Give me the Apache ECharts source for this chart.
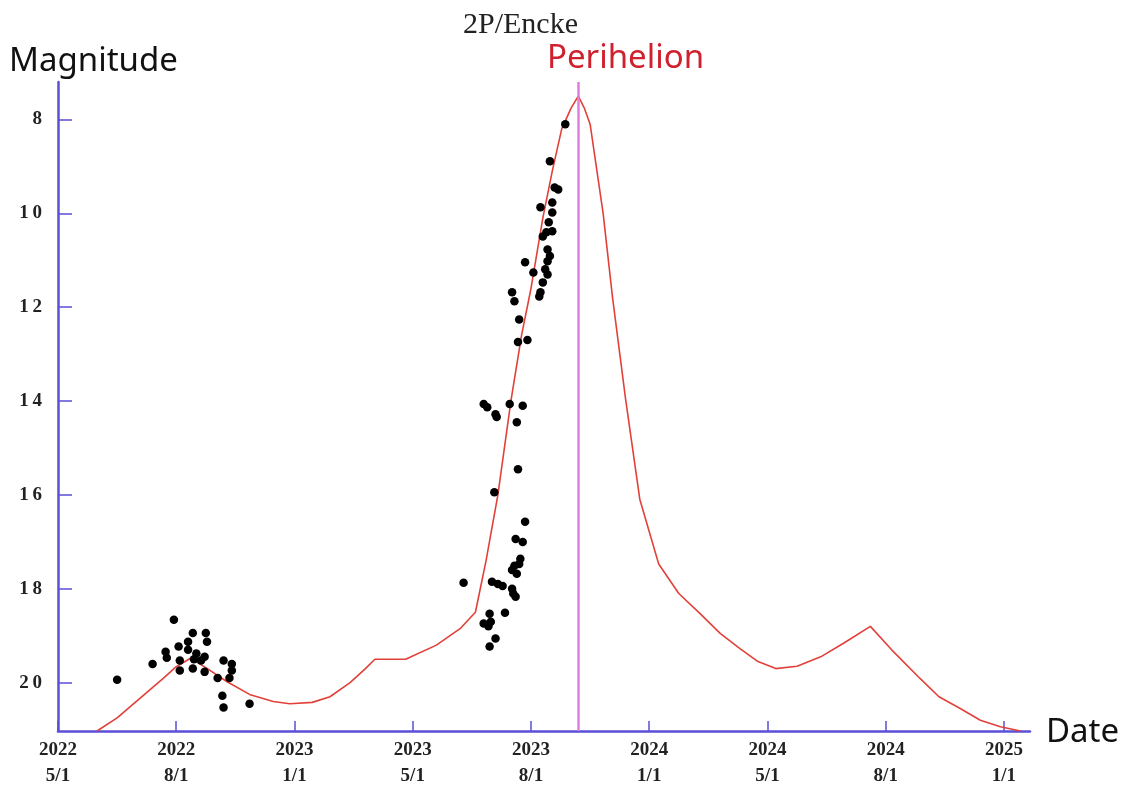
<!DOCTYPE html>
<html>
<head>
<meta charset="utf-8">
<title>2P/Encke</title>
<script src="https://cdn.jsdelivr.net/npm/echarts@6/dist/echarts.min.js"></script>
<style>
    html, body {margin: 0; padding: 0; background: #fff;}
    #main {width: 1130px; height: 789px;}
</style>
</head>
<body>
<div id="main"></div>
<script>
// x is measured in tick steps: 0 = 2022 5/1, 1 = 2022 8/1, ... (ticks are evenly spaced)
var tickLabels = ['2022\n5/1', '2022\n8/1', '2023\n1/1', '2023\n5/1', '2023\n8/1',
    '2024\n1/1', '2024\n5/1', '2024\n8/1', '2025\n1/1'];
var magTicks = [8, 10, 12, 14, 16, 18, 20];
var perihelionX = 4.4;

// predicted light curve [x, magnitude]
var curve = [
    [0.33, 21.03], [0.5, 20.75], [0.69, 20.34], [0.89, 19.91], [1.0, 19.66], [1.12, 19.48],
    [1.25, 19.68], [1.43, 19.98], [1.62, 20.25], [1.82, 20.4], [1.96, 20.45], [2.15, 20.42],
    [2.3, 20.3], [2.47, 20.0], [2.6, 19.7], [2.68, 19.5], [2.94, 19.5], [3.2, 19.2],
    [3.4, 18.85], [3.53, 18.5], [3.62, 17.4], [3.72, 16.0], [3.83, 14.0], [3.92, 12.6],
    [4.0, 11.6], [4.1, 10.1], [4.18, 9.1], [4.26, 8.2], [4.34, 7.75], [4.4, 7.5],
    [4.45, 7.75], [4.5, 8.1], [4.61, 10.0], [4.69, 11.8], [4.8, 13.96], [4.92, 16.09],
    [5.08, 17.47], [5.25, 18.1], [5.43, 18.53], [5.6, 18.95], [5.77, 19.28], [5.92, 19.55],
    [6.07, 19.7], [6.25, 19.65], [6.45, 19.45], [6.65, 19.15], [6.87, 18.8], [7.05, 19.3],
    [7.29, 19.91], [7.45, 20.3], [7.63, 20.55], [7.8, 20.8], [7.97, 20.94], [8.14, 21.03]
];

// observations [x, magnitude]
var observed = [
    [0.5, 19.94], [0.98, 18.66], [0.8, 19.6], [0.91, 19.34], [0.92, 19.47], [1.02, 19.23],
    [1.03, 19.53], [1.03, 19.74], [1.14, 18.94], [1.25, 18.94], [1.1, 19.13], [1.26, 19.13],
    [1.17, 19.38], [1.21, 19.53], [1.14, 19.7], [1.1, 19.3], [1.24, 19.45], [1.15, 19.5],
    [1.24, 19.77], [1.35, 19.9], [1.4, 19.53], [1.47, 19.6], [1.47, 19.74], [1.45, 19.9],
    [1.39, 20.28], [1.4, 20.53], [1.62, 20.45],
    [3.43, 17.87], [3.67, 17.85], [3.72, 17.9], [3.76, 17.94], [3.84, 18.0], [3.85, 18.1],
    [3.87, 18.17], [3.84, 17.6], [3.88, 17.68], [3.9, 17.47], [3.65, 18.53], [3.78, 18.51],
    [3.6, 18.74], [3.64, 18.8], [3.66, 18.7], [3.7, 19.06], [3.65, 19.23],
    [3.89, 12.74], [3.97, 12.7], [3.6, 14.06], [3.63, 14.13], [3.7, 14.28], [3.71, 14.34],
    [3.82, 14.06], [3.93, 14.1], [3.88, 14.45], [3.89, 15.45], [3.69, 15.94], [3.95, 16.57],
    [3.87, 16.94], [3.93, 17.0], [3.91, 17.36], [3.86, 17.51],
    [4.16, 8.89], [4.2, 9.45], [4.23, 9.49], [4.18, 9.77], [4.08, 9.87], [4.18, 9.98],
    [4.15, 10.19], [4.1, 10.49], [4.13, 10.4], [4.18, 10.38], [4.14, 10.77], [4.16, 10.91],
    [4.14, 11.02], [4.12, 11.19], [4.14, 11.3], [4.1, 11.47], [4.08, 11.68], [4.07, 11.77],
    [3.95, 11.04], [4.02, 11.26], [3.84, 11.68], [3.86, 11.87], [3.9, 12.26], [4.29, 8.1]
];

var axisColor = '#5a4fd6';

var myChart = echarts.init(document.getElementById('main'));

var option = {
    backgroundColor: '#fff',
    animation: false,
    title: {
        text: '2P/Encke',
        left: 458,
        top: 5,
        textStyle: {fontFamily: 'Liberation Serif', fontSize: 30, fontWeight: 'normal', color: '#222'}
    },
    grid: {left: 58, right: 100, top: 82, bottom: 56},
    xAxis: {
        type: 'value',
        min: 0,
        max: 8.22,
        axisLine: {lineStyle: {color: axisColor, width: 2.5}},
        splitLine: {show: false},
        axisTick: {inside: true, length: 10, customValues: [0, 1, 2, 3, 4, 5, 6, 7, 8],
            lineStyle: {color: axisColor, width: 1.5}},
        axisLabel: {
            customValues: [0, 1, 2, 3, 4, 5, 6, 7, 8],
            formatter: function (v) { return tickLabels[Math.round(v)] || ''; },
            fontFamily: 'Liberation Serif', fontSize: 19, fontWeight: 'bold', lineHeight: 26,
            color: '#222', margin: 6
        }
    },
    yAxis: {
        type: 'value',
        inverse: true,
        min: 7.2,
        max: 21.03,
        axisLine: {show: true, lineStyle: {color: axisColor, width: 2.5}},
        splitLine: {show: false},
        axisTick: {show: true, inside: true, length: 14, customValues: magTicks,
            lineStyle: {color: axisColor, width: 1.5}},
        axisLabel: {
            customValues: magTicks,
            formatter: function (v) { return String(v).split('').join('\u2009'); },
            fontFamily: 'Liberation Serif', fontSize: 19, fontWeight: 'bold', color: '#222', margin: 16
        }
    },
    series: [
        {
            name: 'curve',
            type: 'line',
            data: curve,
            symbol: 'none',
            lineStyle: {color: '#e2413a', width: 1.6},
            z: 3,
            markLine: {
                silent: true,
                symbol: 'none',
                label: {show: false},
                lineStyle: {color: '#e07ee0', width: 2.5, type: 'solid'},
                data: [{xAxis: perihelionX}]
            }
        },
        {
            name: 'observed',
            type: 'scatter',
            data: observed,
            symbol: 'circle',
            symbolSize: 8.5,
            itemStyle: {color: '#000', opacity: 1},
            z: 4
        }
    ],
    graphic: [
        {type: 'text', left: 9, top: 45,
            style: {text: 'Magnitude', font: '33px "Noto Sans"', fill: '#111'}},
        {type: 'text', left: 547, top: 42,
            style: {text: 'Perihelion', font: '33px "Noto Sans"', fill: '#d0202e'}},
        {type: 'text', left: 1046, top: 716,
            style: {text: 'Date', font: '33px "Noto Sans"', fill: '#111'}}
    ]
};

myChart.setOption(option);
</script>
</body>
</html>
